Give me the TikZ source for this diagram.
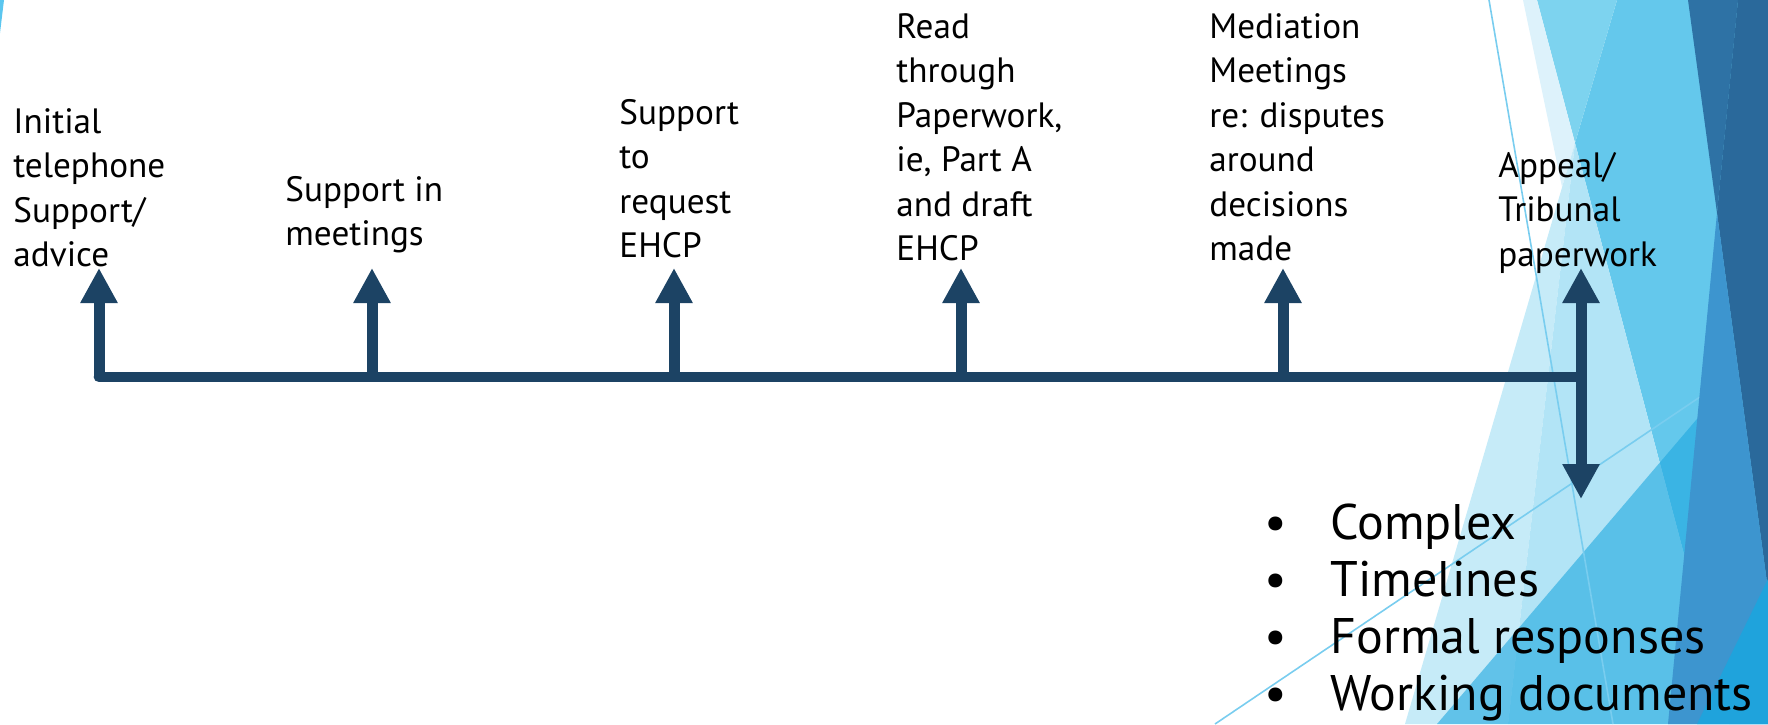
\documentclass[tikz,border=0pt]{standalone}
\usepackage{fontspec}
\setmainfont{PT Sans}
\usepackage{xcolor}
\usetikzlibrary{arrows.meta}

\definecolor{navy}{HTML}{1C4364}
\definecolor{facetpale}{HTML}{DDF2FB}
\definecolor{facetlight}{HTML}{7DD3EF}
\definecolor{facetmist}{HTML}{C6EBF8}
\definecolor{facetice}{HTML}{B2E4F6}
\definecolor{facetsky}{HTML}{64C8EC}
\definecolor{facetbright}{HTML}{1FA8E0}
\definecolor{facetsteel}{HTML}{2E72A5}
\definecolor{facetdeep}{HTML}{2A699B}
\definecolor{facetmid}{HTML}{3D95CF}
\definecolor{facetcyan}{HTML}{1FA3DC}
\definecolor{facetline}{HTML}{79CDEF}
\definecolor{facetsliver}{HTML}{5BC6EF}

\begin{document}
\begin{tikzpicture}[x=0.5pt, y=-0.5pt,
		stagetext/.style={anchor=north west, inner sep=0pt, align=left, font=\fontsize{17.6}{22.25}\selectfont},
		stemarrow/.style={navy, line width=5.5pt, -{Triangle[length=17.5pt, width=17.5pt]}},
	]
	\useasboundingbox (0,0) rectangle (1768,724);
	
	\begin{scope}
		\fill [facetsliver] (0,0) -- (4,0) -- (0,33) -- cycle;
		\fill [facetsky] (1617,0) -- (1768,0) -- (1768,724) -- (1729,724) -- (1575,143) -- cycle;
		\fill [facetlight] (1537,0) -- (1617,0) -- (1575,143) -- cycle;
		\fill [facetpale] (1523,0) -- (1537,0) -- (1575,143) -- (1562,187) -- cycle;
		\fill [facetmist] (1575,143) -- (1405,724) -- (1508,724) -- cycle;
		\fill [facetice] (1575,143) -- (1508,724) -- (1729,724) -- cycle;
		\fill [facetbright, opacity=0.6] (1737,372) -- (1768,590) -- (1768,724) -- (1437,724) -- cycle;
	\end{scope}
	
	\begin{scope}[facetline, line width=0.8pt]
		\draw (1489,0) -- (1613,724);
		\draw (1215,724) -- (1737,372);
	\end{scope}
	
	\begin{scope}
		\fill [facetsteel] (1688,0) -- (1738,0) -- (1717,213) -- cycle;
		\fill [facetdeep] (1738,0) -- (1768,0) -- (1768,590) -- (1717,213) -- cycle;
		\fill [facetmid] (1717,213) -- (1768,590) -- (1768,724) -- (1668,724) -- cycle;
		\fill [facetcyan] (1768,579) -- (1768,724) -- (1697,724) -- cycle;
	\end{scope}
	
	\node [stagetext] (initial) at (13,108) {Initial\\telephone\\Support/\\advice};
	\node [stagetext] (meetings) at (285,176) {Support in\\meetings};
	\node [stagetext] (request) at (619,99) {Support\\to\\request\\EHCP};
	\node [stagetext] (paperwork) at (896,13) {Read\\through\\Paperwork,\\ie, Part A\\and draft\\EHCP};
	\node [stagetext] (mediation) at (1209,13) {Mediation\\Meetings\\re: disputes\\around\\decisions\\made};
	\node [stagetext] (appeal) at (1498,152) {Appeal/\\Tribunal\\paperwork};
	
	\node [anchor=north west, inner sep=0pt, align=left, font=\fontsize{25}{28.65}\selectfont] (issues) at (1264,503)
		{\makebox[33pt][l]{\textbullet}Complex\\
		 \makebox[33pt][l]{\textbullet}Timelines\\
		 \makebox[33pt][l]{\textbullet}Formal responses\\
		 \makebox[33pt][l]{\textbullet}Working documents};
	
	\foreach \n/\x in {1/99, 2/372, 3/674, 4/961, 5/1283, 6/1581} {
		\coordinate (base\n) at (\x,377);
		\coordinate (tip\n) at (\x,268);
	}
	\coordinate (down6) at (1581,499);
	
	\draw [navy, line width=5.35pt, line cap=round] (base1) -- (base6);
	\foreach \n in {1,...,5}
		\draw [stemarrow] (base\n) -- (tip\n);
	\draw [stemarrow, {Triangle[length=17.5pt, width=17.5pt]}-{Triangle[length=17.5pt, width=17.5pt]}] (tip6) -- (down6);
\end{tikzpicture}
\end{document}
